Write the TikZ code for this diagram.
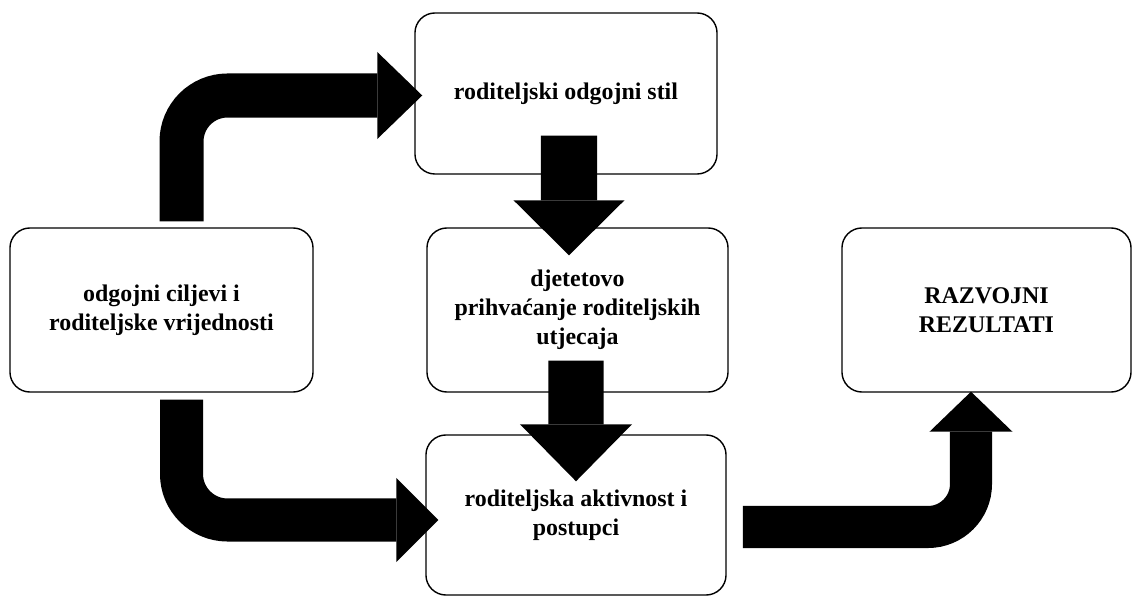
\documentclass[tikz,border=0pt]{standalone}
\usepackage{fontspec}
\setmainfont{Liberation Serif}
\usetikzlibrary{arrows.meta}

\begin{document}
\begin{tikzpicture}[x=0.025cm, y=-0.025cm,
    stage/.style={draw, line width=1pt, rounded corners=0.5cm, align=center, inner sep=0pt,
      font=\bfseries\fontsize{17}{20.6}\selectfont},
    flow/.style args={#1/#2/#3/#4}{line width=#1, rounded corners=#4,
      -{Triangle[length=#2, width=#3, line width=0pt]}}]

    \useasboundingbox (0,0) rectangle (1134,596);

    % the five stages
    \node[stage, minimum width=7.55cm, minimum height=4.025cm] (stil) at (566,93.5) {roditeljski odgojni stil};
    \node[stage, minimum width=7.575cm, minimum height=4.1cm] (ciljevi) at (161.5,310) {odgojni ciljevi i\\roditeljske vrijednosti};
    \node[stage, minimum width=7.525cm, minimum height=4.1cm] (prihvacanje) at (577.5,310) {djetetovo\\prihvaćanje roditeljskih\\utjecaja};
    \node[stage, minimum width=7.225cm, minimum height=4.1cm] (razvoj) at (986.5,310) {RAZVOJNI\\REZULTATI};
    \node[stage, minimum width=7.5cm, minimum height=4cm] (aktivnost) at (576,515) {roditeljska aktivnost i\\postupci};

    % thick arrows
    \draw[flow=1.1cm/1.125cm/2.175cm/1.15cm] ([xshift=0.5cm,yshift=0.15cm]ciljevi.north) |- ([xshift=0.2cm,yshift=-0.05cm]stil.west);
    \draw[flow=1.075cm/1.05cm/2.1cm/1.15cm] ([xshift=0.5cm,yshift=-0.175cm]ciljevi.south) |- ([xshift=0.325cm,yshift=-0.125cm]aktivnost.west);
    \draw[flow=1.4cm/1.375cm/2.775cm/0cm] ([xshift=0.075cm,yshift=0.975cm]stil.south) -- ([xshift=-0.2125cm,yshift=-0.7cm]prihvacanje.north);
    \draw[flow=1.375cm/1.425cm/2.8cm/0cm] ([xshift=-0.0375cm,yshift=0.8cm]prihvacanje.south) -- ([yshift=-1.175cm]aktivnost.north);
    \draw[flow=1.05cm/1cm/2.075cm/1.075cm] ([xshift=0.4cm,yshift=-0.3cm]aktivnost.east) -| ([xshift=-0.3875cm,yshift=0.025cm]razvoj.south);

\end{tikzpicture}
\end{document}
